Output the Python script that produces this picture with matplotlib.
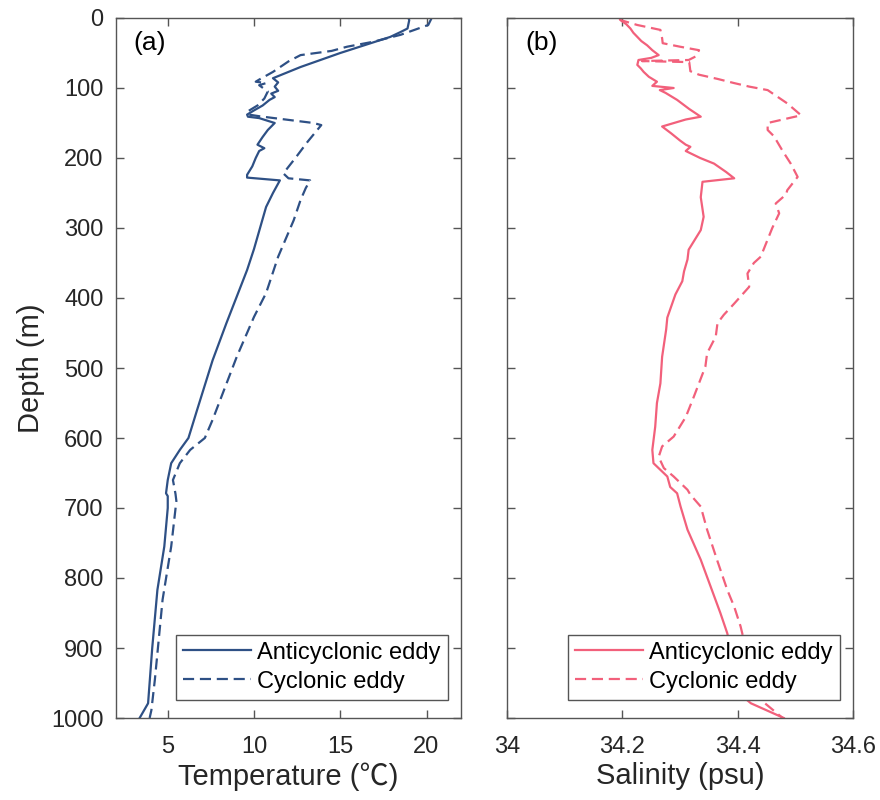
import matplotlib
matplotlib.use("Agg")
import matplotlib.pyplot as plt
import numpy as np

plt.rcParams['font.family'] = ['Liberation Sans', 'Noto Sans CJK SC', 'DejaVu Sans']

# ---- data ----
depth_t_anti = [0, 3, 15, 20, 27, 50, 70, 86, 92, 98, 104, 108, 113, 117, 125, 132, 138, 141, 143, 150,
                160, 170, 181, 186, 190, 200, 212, 224, 228, 232, 250, 270, 300, 330, 360, 398, 436, 489,
                560, 600, 617, 636, 660, 679, 683, 700, 755, 817, 900, 979, 1000]
temp_anti = [18.95, 19.0, 18.9, 18.5, 17.9, 15.0, 12.7, 11.1, 11.4, 11.2, 11.4, 11.0, 11.2, 10.9, 10.5, 10.0,
             9.6, 9.65, 10.3, 11.2, 10.8, 10.5, 10.2, 10.6, 10.3, 10.1, 9.9, 9.6, 9.6, 11.5, 11.1, 10.7,
             10.35, 10.0, 9.6, 9.0, 8.4, 7.6, 6.7, 6.2, 5.7, 5.2, 5.0, 4.9, 5.0, 5.0, 4.8, 4.4, 4.1, 3.86, 3.37]

depth_t_cyc = [0, 10, 24, 34, 41, 47, 53, 62, 77, 88, 91, 93, 96, 105, 115, 125, 134, 138, 140.5, 150, 153,
               165, 177, 200, 222, 229, 232, 243, 260, 289, 341, 393, 427, 484, 574, 600, 617, 636, 660,
               680, 690, 755, 831, 946, 989, 1000]
temp_cyc = [20.3, 20.1, 18.5, 16.9, 15.4, 14.5, 12.7, 12.0, 11.1, 10.3, 10.1, 10.7, 10.3, 10.8, 10.6, 10.2,
            9.6, 9.7, 10.35, 13.45, 13.9, 13.5, 13.1, 12.4, 11.7, 12.0, 13.25, 13.0, 12.7, 12.3, 11.4, 10.7,
            10.0, 9.0, 7.6, 7.15, 6.3, 5.7, 5.3, 5.45, 5.5, 5.2, 4.7, 4.25, 4.05, 3.95]

depth_s_anti = [0, 3, 9, 15, 21, 27, 33, 39, 46, 53, 57, 60, 67, 72, 77, 84, 91, 97, 100, 103, 107, 112, 117,
                130, 141, 145, 155, 165, 175, 181, 184, 190, 200, 208, 220, 229, 234, 256, 284, 303, 331, 345,
                362, 376, 395, 428, 445, 484, 522, 550, 584, 617, 636, 655, 670, 679, 698, 731, 774, 812,
                850, 879, 930, 970, 979, 1000]
sal_anti = [34.195, 34.197, 34.207, 34.214, 34.219, 34.226, 34.233, 34.243, 34.252, 34.263, 34.25, 34.228,
            34.226, 34.232, 34.237, 34.246, 34.26, 34.252, 34.289, 34.265, 34.275, 34.285, 34.295, 34.316,
            34.336, 34.31, 34.269, 34.285, 34.30, 34.31, 34.318, 34.31, 34.335, 34.359, 34.38, 34.394,
            34.339, 34.336, 34.341, 34.336, 34.315, 34.313, 34.307, 34.304, 34.292, 34.278, 34.276, 34.269,
            34.266, 34.26, 34.257, 34.252, 34.254, 34.278, 34.283, 34.295, 34.301, 34.313, 34.336, 34.353,
            34.37, 34.382, 34.395, 34.41, 34.423, 34.48]

depth_s_cyc = [0, 3, 10, 17, 29, 36, 41, 46, 55, 60, 61.5, 63, 76, 81, 87, 93, 98, 103, 122, 139, 150, 160,
               169, 190, 208, 227, 246, 252, 265, 279, 300, 341, 350, 365, 384, 408, 424, 436, 455, 479, 498,
               541, 570, 598, 612, 627, 643, 655, 674, 681, 698, 731, 776, 817, 841, 869, 920, 974, 1000]
sal_cyc = [34.195, 34.197, 34.226, 34.266, 34.269, 34.27, 34.30, 34.333, 34.327, 34.315, 34.234, 34.316,
           34.318, 34.333, 34.365, 34.394, 34.42, 34.452, 34.486, 34.51, 34.452, 34.452, 34.463, 34.478,
           34.492, 34.504, 34.486, 34.484, 34.466, 34.472, 34.46, 34.44, 34.428, 34.417, 34.42, 34.394,
           34.376, 34.365, 34.362, 34.347, 34.344, 34.324, 34.31, 34.289, 34.269, 34.263, 34.272, 34.289,
           34.313, 34.318, 34.336, 34.347, 34.365, 34.382, 34.394, 34.405, 34.42, 34.44, 34.478]

depth_ticks = [0, 100, 200, 300, 400, 500, 600, 700, 800, 900, 1000]
temp_ticks = [5, 10, 15, 20]
sal_ticks = [34, 34.2, 34.4, 34.6]
sal_ticklabels = ['34', '34.2', '34.4', '34.6']
labels = ['Anticyclonic eddy', 'Cyclonic eddy']

blue = '#2E5085'
pink = '#F2607B'
spine_c = '#555555'
text_c = '#262626'

fig = plt.figure(figsize=(8.8, 8.0), dpi=100)
ax1 = fig.add_axes([116/880, 1-718/800, 345/880, 700/800])
ax2 = fig.add_axes([507/880, 1-718/800, 346/880, 700/800])

lw = 1.6
dash = (5, 2.6)
ax1.plot(temp_anti, depth_t_anti, color=blue, lw=lw, label=labels[0])
ax1.plot(temp_cyc, depth_t_cyc, color=blue, lw=lw, ls=(0, dash), label=labels[1])
ax2.plot(sal_anti, depth_s_anti, color=pink, lw=lw, label=labels[0])
ax2.plot(sal_cyc, depth_s_cyc, color=pink, lw=lw, ls=(0, dash), label=labels[1])

ax1.set_xlim(2, 22)
ax2.set_xlim(34, 34.6)
for ax in (ax1, ax2):
    ax.set_ylim(1000, 0)
    ax.set_yticks(depth_ticks)
    ax.tick_params(direction='in', length=6, width=1, top=True, right=True,
                   colors=spine_c, labelcolor=text_c, labelsize=17)
    ax.tick_params(axis='x', pad=13)
    ax.tick_params(axis='y', pad=9)
    for s in ax.spines.values():
        s.set_color(spine_c)
        s.set_linewidth(1.0)
    leg = ax.legend(loc='lower right', bbox_to_anchor=(0.962, 0.026), borderaxespad=0,
                    fontsize=17, fancybox=False, framealpha=1, edgecolor=spine_c,
                    handlelength=2.9, handletextpad=0.25, labelspacing=0.3, borderpad=0.3)
    leg.get_frame().set_linewidth(1.0)

ax1.set_xticks(temp_ticks)
ax2.set_xticks(sal_ticks)
ax2.set_xticklabels(sal_ticklabels)
ax2.tick_params(labelleft=False)

ax1.set_ylabel('Depth (m)', fontsize=21, color=text_c, labelpad=4)
ax1.set_xlabel('Temperature (℃)', fontsize=21, color=text_c, labelpad=3)
ax2.set_xlabel('Salinity (psu)', fontsize=21, color=text_c, labelpad=3)

ax1.text(0.05, 0.982, '(a)', transform=ax1.transAxes, fontsize=19, color='black', va='top', ha='left')
ax2.text(0.052, 0.982, '(b)', transform=ax2.transAxes, fontsize=19, color='black', va='top', ha='left')

fig.savefig('out.png', dpi=100, facecolor='white')
